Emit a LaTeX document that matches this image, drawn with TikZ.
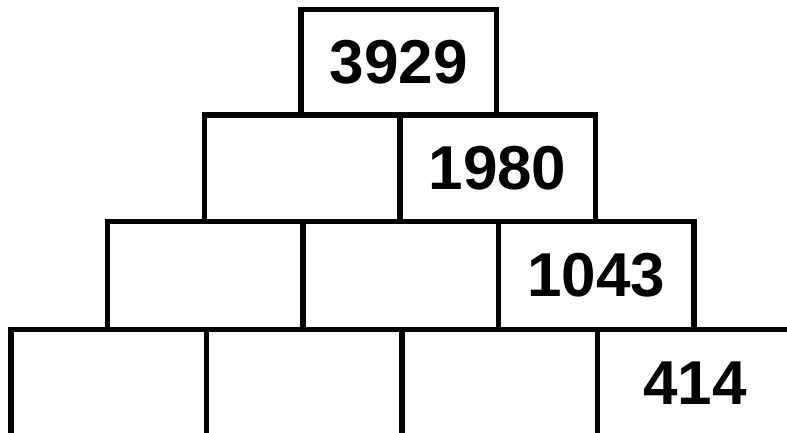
\documentclass[tikz,border=0pt]{standalone}
\usepackage{fontspec}
\setsansfont{Liberation Sans}
\usetikzlibrary{positioning}
\tikzset{
  brick/.style={draw, line width=2.75pt, minimum width=97.75pt, minimum height=#1,
    inner sep=0pt, outer sep=0pt, anchor=north west},
  numtxt/.style={font=\sffamily\bfseries\fontsize{31}{31}\selectfont},
}

\begin{document}
\begin{tikzpicture}[x=0.5pt,y=-0.5pt]
  \useasboundingbox (0,0) rectangle (787,433);
  \clip (0,0) rectangle (787,433);
  % rows of the pyramid, top to bottom
  \foreach \r/\top/\h/\val in {0/9.5/52.75pt/3929, 1/115/53.25pt/1980,
                               2/221.5/54pt/1043, 3/329.5/53.75pt/414} {
    \foreach \c in {0,...,\r} {
      \node[brick=\h] (b\r\c) at ({301-96.75*\r+195.5*\c},\top) {};
    }
    % known value in the last brick of the row
    \node[numtxt] (n\r) at (b\r\r) {\val};
  }
\end{tikzpicture}
\end{document}
